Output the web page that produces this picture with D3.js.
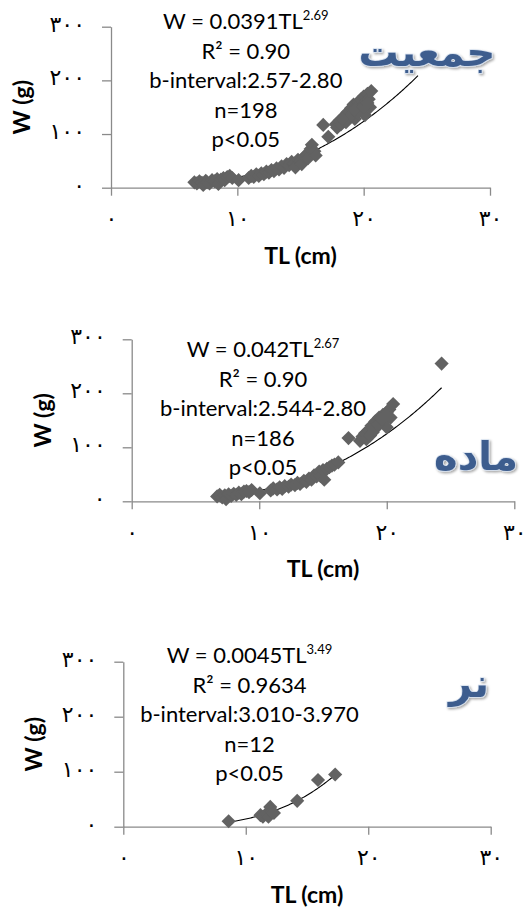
<!DOCTYPE html>
<html>
<head>
<meta charset="utf-8">
<script src="https://cdn.jsdelivr.net/npm/d3@7"></script>
<style>
  body { margin: 0; background: #fff; }
  svg text { font-family: Lato, "Open Sans", sans-serif; }
</style>
</head>
<body>
<div id="chart"></div>
<script>
// tick labels (Persian digits)
var xTickValues = [0, 10, 20, 30];
var xTickLabels = ["۰", "۱۰", "۲۰", "۳۰"];
var yTickValues = [0, 100, 200, 300];
var yTickLabels = ["۰", "۱۰۰", "۲۰۰", "۳۰۰"];

// panel titles
var panelTitles = ["جمعیت", "ماده", "نر"];

// regression text
var eqCoef = ["W = 0.0391TL", "W = 0.042TL", "W = 0.0045TL"];
var eqExp = ["2.69", "2.67", "3.49"];
var r2Labels = ["R² = 0.90", "R² = 0.90", "R² = 0.9634"];
var bLabels = ["b-interval:2.57-2.80", "b-interval:2.544-2.80", "b-interval:3.010-3.970"];
var nLabels = ["n=198", "n=186", "n=12"];
var pLabels = ["p<0.05", "p<0.05", "p<0.05"];

// power trend lines W = a*TL^b, drawn over the observed TL range
var trendA = [0.0391, 0.042, 0.0045];
var trendB = [2.69, 2.67, 3.49];
var trendFrom = [6.8, 6.7, 8.6];
var trendTo = [24.3, 24.3, 17.3];

var popPoints = [
  [6.6,10],[6.8,8],[7.0,12],[7.2,9],[7.3,5],[7.5,13],[7.6,10],[7.8,8],[8.0,14],[8.2,12],
  [8.4,16],[8.5,7],[8.7,15],[8.9,18],[9.0,14],[9.2,20],[9.4,22],[9.6,18],[10.1,14],
  [10.9,18],[11.1,22],[11.3,20],[11.5,25],[11.7,22],[11.9,27],[12.1,25],[12.3,30],[12.5,28],
  [12.7,33],[12.9,31],[13.1,36],[13.3,34],[13.5,40],[13.7,37],[13.9,44],[14.1,42],[14.3,48],
  [14.5,45],[14.6,38],[14.8,52],[15.0,50],[15.1,44],[15.3,58],[15.5,62],[15.6,55],[15.8,72],
  [15.9,80],[16.1,68],[16.2,60],
  [16.8,117],[17.2,95],
  [17.8,118],[17.9,112],[18.1,125],[18.2,118],[18.4,132],[18.5,124],[18.7,140],[18.8,130],
  [19.0,148],[19.1,138],[19.2,155],[19.3,128],[19.4,150],[19.6,160],[19.7,145],[19.8,165],
  [19.9,152],[20.0,170],[20.1,135],[20.2,160],[20.3,175],[20.4,165],[20.6,180],[20.5,150],
  [18.6,122],[19.0,135],[19.5,140],[18.3,128],[19.3,145],[20.0,150],[20.3,158]
];
var femalePoints = [
  [6.7,9],[6.9,12],[7.1,7],[7.3,11],[7.4,4],[7.6,13],[7.8,10],[8.0,14],[8.2,12],[8.4,16],
  [8.6,13],[8.8,18],[9.0,19],[9.2,17],[9.4,21],[10.05,15],
  [10.9,20],[11.1,24],[11.4,22],[11.6,26],[11.8,23],[12.0,28],[12.3,27],[12.5,31],[12.8,30],
  [13.0,34],[13.2,32],[13.5,38],[13.7,36],[13.9,42],[14.1,40],[14.3,48],[14.5,46],[14.7,55],
  [14.8,47],[15.0,58],[15.1,40],[15.3,60],[15.5,63],[15.7,66],[15.9,68],[16.2,72],
  [17.0,117],
  [17.9,112],[18.1,120],[18.3,126],[18.4,115],[18.6,132],[18.8,140],[18.9,128],[19.1,148],
  [19.2,137],[19.4,155],[19.5,145],[19.7,160],[19.8,150],[20.0,165],[20.0,137],[20.2,170],
  [20.3,155],[20.5,180],[18.7,122],[19.0,133],[19.3,142],[19.6,152],[19.9,158],
  [24.3,255]
];
var malePoints = [
  [8.6,10],[11.2,21],[11.4,18],[11.7,24],[11.85,18],[12.0,36],[12.05,30],[12.1,27],[12.3,25],
  [14.2,47],[15.9,85],[17.3,95]
];

var panelData = [popPoints, femalePoints, malePoints];

// layout of the three panels
var panels = [
  {x0: 111, x1: 490, y0: 187.7, y1: 26.7, tx: 245.8, ty: 29.3, hx: 427, hy: 66},
  {x0: 131.7, x1: 514.3, y0: 501.3, y1: 339.3, tx: 263, ty: 357.3, hx: 476, hy: 470},
  {x0: 123.3, x1: 490.7, y0: 826.7, y1: 661.7, tx: 249.5, ty: 663.3, hx: 469, hy: 697}
];
var lineStep = 29.4;
var axisColor = "#8a8a8a";
var markColor = "#626262";
var titleColor = "#3d5d8e";

var svg = d3.select("#chart")
  .append("svg")
    .attr("width", 523)
    .attr("height", 910);

// soft shadow for the word-art titles
var defs = svg.append("defs");
var filt = defs.append("filter").attr("id", "shadow")
  .attr("x", "-20%").attr("y", "-20%").attr("width", "140%").attr("height", "140%");
filt.append("feDropShadow")
  .attr("dx", 1.5).attr("dy", 1.5).attr("stdDeviation", 1.2)
  .attr("flood-color", "#000").attr("flood-opacity", 0.35);

var diamond = d3.symbol().type(d3.symbolSquare).size(100);

panels.forEach(function(p, i) {
  var x = d3.scaleLinear().domain([0, 30]).range([p.x0, p.x1]);
  var y = d3.scaleLinear().domain([0, 300]).range([p.y0, p.y1]);
  var g = svg.append("g");

  // x axis
  var xAxis = g.append("g")
    .attr("transform", "translate(0," + p.y0 + ")")
    .call(d3.axisBottom(x)
      .tickValues(xTickValues)
      .tickSize(8)
      .tickSizeOuter(0)
      .tickPadding(15)
      .tickFormat(function(d, k) { return xTickLabels[k]; }));

  // y axis
  var yAxis = g.append("g")
    .attr("transform", "translate(" + p.x0 + ",0)")
    .call(d3.axisLeft(y)
      .tickValues(yTickValues)
      .tickSize(9)
      .tickSizeOuter(0)
      .tickPadding(17)
      .tickFormat(function(d, k) { return yTickLabels[k]; }));

  [xAxis, yAxis].forEach(function(a) {
    a.select(".domain").attr("stroke", axisColor).attr("stroke-width", 1.3);
    a.selectAll(".tick line").attr("stroke", axisColor).attr("stroke-width", 1.3);
    a.selectAll(".tick text")
      .attr("fill", "#000")
      .style("font-family", "'DejaVu Sans', sans-serif")
      .style("font-size", "22px")
      .style("letter-spacing", "1px");
  });
  yAxis.selectAll(".tick text").attr("dy", "0.2em");

  // axis titles
  g.append("text")
    .attr("x", (p.x0 + p.x1) / 2)
    .attr("y", p.y0 + 76)
    .attr("text-anchor", "middle")
    .style("font-size", "23px")
    .style("font-weight", "bold")
    .text("TL (cm)");

  g.append("text")
    .attr("transform", "translate(" + (p.x0 - 81) + "," + ((p.y0 + p.y1) / 2) + ") rotate(-90)")
    .attr("text-anchor", "middle")
    .style("font-size", "23px")
    .style("font-weight", "bold")
    .text("W (g)");

  // trend line
  var ts = d3.range(trendFrom[i], trendTo[i], 0.1).concat([trendTo[i]]);
  g.append("path")
    .datum(ts)
    .attr("fill", "none")
    .attr("stroke", "#000")
    .attr("stroke-width", 1.1)
    .attr("d", d3.line()
      .x(function(t) { return x(t); })
      .y(function(t) { return y(trendA[i] * Math.pow(t, trendB[i])); }));

  // points
  g.selectAll("path.pt")
    .data(panelData[i])
    .enter()
    .append("path")
      .attr("class", "pt")
      .attr("d", diamond)
      .attr("transform", function(d) {
        return "translate(" + x(d[0]) + "," + y(d[1]) + ") rotate(45)";
      })
      .attr("fill", markColor);

  // regression annotation
  var eq = g.append("text")
    .attr("x", p.tx)
    .attr("y", p.ty)
    .attr("text-anchor", "middle")
    .style("font-size", "22px");
  eq.append("tspan").text(eqCoef[i]);
  eq.append("tspan")
    .attr("dy", -9)
    .style("font-size", "13px")
    .text(eqExp[i]);

  [r2Labels[i], bLabels[i], nLabels[i], pLabels[i]].forEach(function(s, k) {
    g.append("text")
      .attr("x", p.tx)
      .attr("y", p.ty + lineStep * (k + 1))
      .attr("text-anchor", "middle")
      .style("font-size", "22px")
      .text(s);
  });

  // panel title
  g.append("text")
    .attr("x", p.hx)
    .attr("y", p.hy)
    .attr("text-anchor", "middle")
    .attr("fill", titleColor)
    .attr("stroke", "#d6e0ee")
    .attr("stroke-width", 1.5)
    .attr("paint-order", "stroke")
    .attr("filter", "url(#shadow)")
    .style("font-family", "'DejaVu Sans', sans-serif")
    .style("font-weight", "bold")
    .style("font-size", "40px")
    .text(panelTitles[i]);
});
</script>
</body>
</html>
